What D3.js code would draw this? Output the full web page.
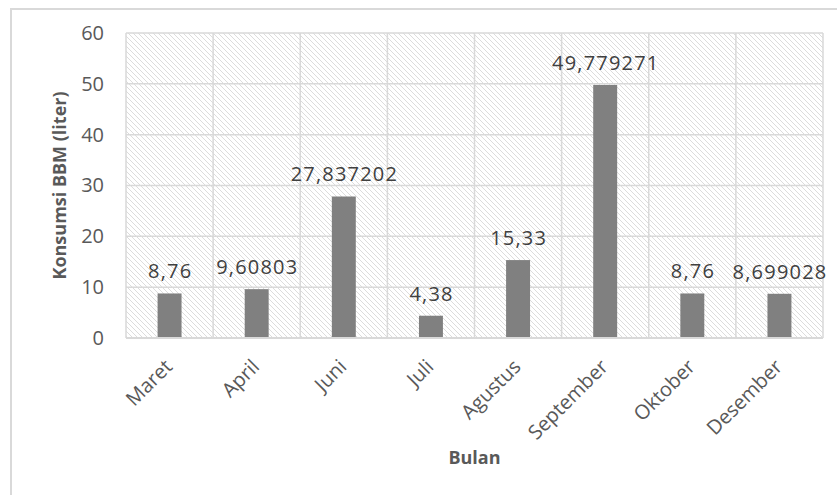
<!DOCTYPE html>
<html>
<head>
<meta charset="utf-8">
<script src="https://cdn.jsdelivr.net/npm/d3@7"></script>
<style>
  html, body { margin: 0; padding: 0; background: #fff; }
  svg { display: block; }
  text { font-family: "Open Sans", "Noto Sans", sans-serif; }
</style>
</head>
<body>
<svg id="chart" width="837" height="495"></svg>
<script>
const categories = ["Maret", "April", "Juni", "Juli", "Agustus", "September", "Oktober", "Desember"];
const values = [8.76, 9.60803, 27.837202, 4.38, 15.33, 49.779271, 8.76, 8.699028];
const valueLabels = ["8,76", "9,60803", "27,837202", "4,38", "15,33", "49,779271", "8,76", "8,699028"];
const yTicks = [0, 10, 20, 30, 40, 50, 60];
const xTitle = "Bulan";
const yTitle = "Konsumsi BBM (liter)";

const svg = d3.select("#chart");
const W = 837, H = 495;
const plot = { left: 126, top: 33, right: 823, bottom: 338 };

// outer chart border
svg.append("rect")
  .attr("x", 11).attr("y", 9)
  .attr("width", W + 20).attr("height", H + 20)
  .attr("fill", "#fff").attr("stroke", "#d9d9d9").attr("stroke-width", 2);

// hatch pattern
const defs = svg.append("defs");
const pat = defs.append("pattern")
  .attr("id", "hatch").attr("patternUnits", "userSpaceOnUse")
  .attr("width", 5).attr("height", 5);
pat.append("rect").attr("width", 5).attr("height", 5).attr("fill", "#fff");
pat.append("path")
  .attr("d", "M-1,-1 L6,6 M-1,4 L1,6 M4,-1 L6,1")
  .attr("stroke", "#dcdcdc").attr("stroke-width", 1);

const x = d3.scaleBand().domain(categories).range([plot.left, plot.right]).padding(0);
const y = d3.scaleLinear().domain([0, 60]).range([plot.bottom, plot.top]);

svg.append("rect")
  .attr("x", plot.left).attr("y", plot.top)
  .attr("width", plot.right - plot.left).attr("height", plot.bottom - plot.top)
  .attr("fill", "url(#hatch)");

// horizontal gridlines
svg.append("g").selectAll("line").data(yTicks).join("line")
  .attr("x1", plot.left).attr("x2", plot.right)
  .attr("y1", d => y(d)).attr("y2", d => y(d))
  .attr("stroke", "#d9d9d9").attr("stroke-width", 1.5);

// vertical gridlines (category boundaries)
const bounds = categories.map(c => x(c)).concat([plot.right]);
svg.append("g").selectAll("line").data(bounds).join("line")
  .attr("x1", d => d).attr("x2", d => d)
  .attr("y1", plot.top).attr("y2", plot.bottom)
  .attr("stroke", "#d9d9d9").attr("stroke-width", 1.5);

// bars
const bw = x.bandwidth() * 0.275;
svg.append("g").selectAll("rect").data(values).join("rect")
  .attr("x", (d, i) => x(categories[i]) + x.bandwidth() / 2 - bw / 2)
  .attr("y", d => y(d))
  .attr("width", bw)
  .attr("height", d => y(0) - y(d))
  .attr("fill", "#808080");

// bottom axis line
svg.append("line")
  .attr("x1", plot.left).attr("x2", plot.right)
  .attr("y1", plot.bottom).attr("y2", plot.bottom)
  .attr("stroke", "#d9d9d9").attr("stroke-width", 2);

// value labels
svg.append("g").selectAll("text").data(values).join("text")
  .attr("x", (d, i) => x(categories[i]) + x.bandwidth() / 2 + 0.6)
  .attr("y", d => y(d) - 15)
  .attr("text-anchor", "middle")
  .attr("font-size", 20)
  .attr("letter-spacing", 1.2)
  .attr("fill", "#404040")
  .text((d, i) => valueLabels[i]);

// y axis tick labels
const yAxis = d3.axisLeft(y).tickValues(yTicks).tickSize(0).tickPadding(22);
const gy = svg.append("g").attr("transform", `translate(${plot.left},0)`).call(yAxis);
gy.select(".domain").remove();
gy.selectAll("text")
  .attr("font-size", 20)
  .attr("fill", "#595959")
  .style("font-family", "'Open Sans', 'Noto Sans', sans-serif");

// x axis tick labels
const xAxis = d3.axisBottom(x).tickSize(0).tickPadding(0);
const gx = svg.append("g").attr("transform", `translate(0,${plot.bottom})`).call(xAxis);
gx.select(".domain").remove();
gx.selectAll("text")
  .attr("font-size", 20)
  .attr("fill", "#595959")
  .style("font-family", "'Open Sans', 'Noto Sans', sans-serif")
  .attr("text-anchor", "end")
  .attr("dy", null)
  .attr("transform", "translate(4,30) rotate(-45)");

// axis titles
svg.append("text")
  .attr("x", (plot.left + plot.right) / 2)
  .attr("y", 464)
  .attr("text-anchor", "middle")
  .attr("font-size", 18)
  .attr("font-weight", "bold")
  .attr("fill", "#595959")
  .text(xTitle);

svg.append("text")
  .attr("transform", `translate(66,${(plot.top + plot.bottom) / 2}) rotate(-90)`)
  .attr("text-anchor", "middle")
  .attr("font-size", 18)
  .attr("font-weight", "bold")
  .attr("fill", "#595959")
  .text(yTitle);
</script>
</body>
</html>
